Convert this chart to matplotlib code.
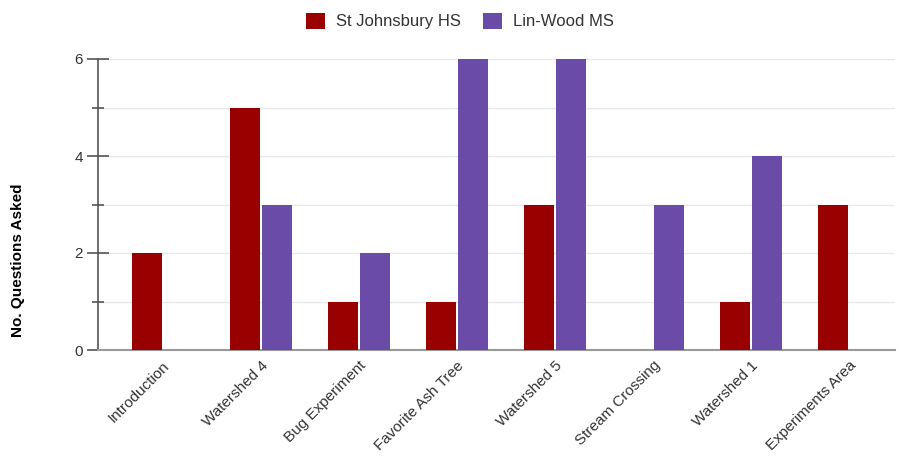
import numpy as np
import matplotlib.pyplot as plt
from matplotlib.ticker import MultipleLocator

plt.rcParams['font.family'] = ['Liberation Sans', 'DejaVu Sans']

categories = ['Introduction', 'Watershed 4', 'Bug Experiment', 'Favorite Ash Tree',
              'Watershed 5', 'Stream Crossing', 'Watershed 1', 'Experiments Area']
st_johnsbury = [2, 5, 1, 1, 3, 0, 1, 3]
lin_wood = [0, 3, 2, 6, 6, 3, 4, 0]
series_names = ['St Johnsbury HS', 'Lin-Wood MS']
colors = ['#990000', '#6a4ca8']

fig = plt.figure(figsize=(9.02, 4.63), dpi=100)
ax = fig.add_axes([98 / 902, 113 / 463, 797 / 902, 291 / 463])

x = np.arange(len(categories))
w = 0.31
ax.bar(x - 0.163, st_johnsbury, w, color=colors[0], label=series_names[0], zorder=3)
ax.bar(x + 0.163, lin_wood, w, color=colors[1], label=series_names[1], zorder=3)

ax.set_xlim(-0.66, 7.47)
ax.set_ylim(0, 6)
ax.yaxis.set_major_locator(MultipleLocator(2))
ax.yaxis.set_minor_locator(MultipleLocator(1))
ax.grid(axis='y', which='both', color='#e8e8e8', lw=1, zorder=0)

for s in ['top', 'right']:
    ax.spines[s].set_visible(False)
ax.spines['left'].set_color('#555555')
ax.spines['left'].set_linewidth(1.2)
ax.spines['bottom'].set_color('#999999')
ax.spines['bottom'].set_linewidth(1.5)

ax.tick_params(axis='y', which='major', direction='inout', length=16, width=1.2,
               color='#555555', labelsize=11, labelcolor='#333333', pad=3)
ax.tick_params(axis='y', which='minor', direction='inout', length=8, width=1.2, color='#555555')
ax.tick_params(axis='x', length=0, pad=6)

ax.set_xticks(x)
ax.set_xticklabels(categories, rotation=45, ha='right', rotation_mode='anchor',
                   fontsize=11, color='#333333')
ax.set_ylabel('No. Questions Asked', fontsize=11, fontweight='bold')
ax.yaxis.set_label_coords(-0.091, 0.31)

fig.legend(*ax.get_legend_handles_labels(), loc='center', bbox_to_anchor=(460 / 902, 442 / 463),
           ncol=2, frameon=False, fontsize=12, handlelength=1.15, handleheight=1.15,
           columnspacing=1.3, handletextpad=0.65, labelcolor='#333333')

fig.savefig('out.png', dpi=100)
